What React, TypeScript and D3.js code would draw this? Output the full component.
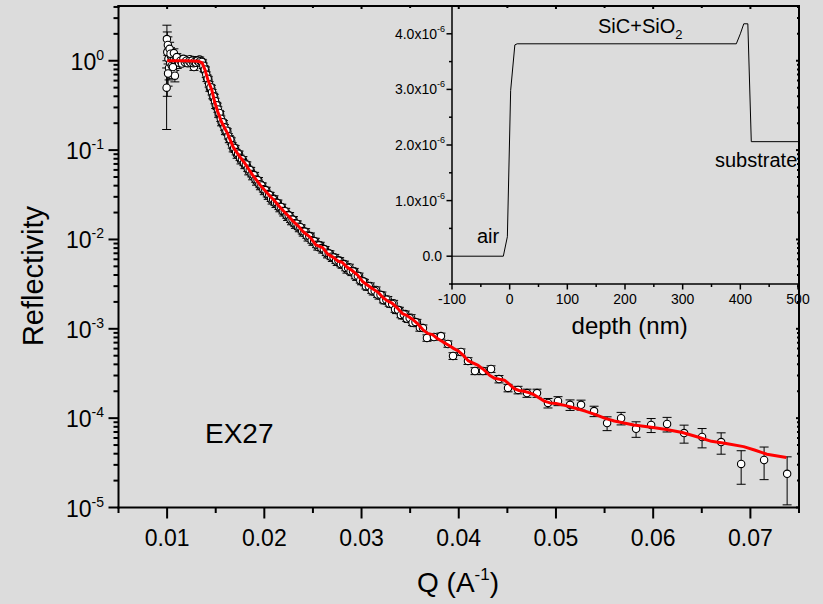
import React from 'react';
import * as d3 from 'd3';

const W = 823;
const H = 604;
const BG = '#dcdcdc';
const FONT = '"Liberation Sans", Arial, sans-serif';

// Measured reflectivity: Q (1/A), R, sigma(R)
const dataQ = [
  0.00995, 0.00998, 0.01002, 0.01008, 0.01014, 0.0102, 0.01026, 0.01032, 0.0104, 0.01048,
  0.01056, 0.01064, 0.01072, 0.0108, 0.01088, 0.01096, 0.01104, 0.01115, 0.0113, 0.01145,
  0.0116, 0.01175, 0.0119, 0.01205, 0.0122, 0.01235, 0.0125, 0.01265, 0.01276, 0.0129,
  0.01305, 0.0132, 0.01335, 0.0135, 0.01365, 0.0138, 0.01395, 0.0141, 0.01425, 0.0144,
  0.01455, 0.0147, 0.01485, 0.015, 0.01515, 0.0153, 0.01545, 0.0156, 0.0158, 0.016,
  0.0162, 0.0164, 0.0166, 0.0168, 0.017, 0.0172, 0.0174, 0.0176, 0.0178, 0.018,
  0.0182, 0.0184, 0.0186, 0.0188, 0.019, 0.0192, 0.0194, 0.0196, 0.0198, 0.02,
  0.0202, 0.0204, 0.0206, 0.0208, 0.021, 0.0212, 0.0214, 0.0216, 0.0218, 0.022,
  0.0222, 0.0224, 0.0226, 0.0228, 0.023, 0.0232, 0.0234, 0.0236, 0.0238, 0.024,
  0.02425, 0.0245, 0.02475, 0.025, 0.02525, 0.0255, 0.02575, 0.026, 0.02625, 0.0265,
  0.02675, 0.027, 0.02725, 0.0275, 0.02775, 0.028, 0.02825, 0.0285, 0.02875, 0.029,
  0.02925, 0.0295, 0.02975, 0.03, 0.0303, 0.0306, 0.0309, 0.0312, 0.0315, 0.0318,
  0.0321, 0.0324, 0.0327, 0.033, 0.0333, 0.0336, 0.0339, 0.0342, 0.0345, 0.0348,
  0.0351, 0.0354, 0.0357, 0.036, 0.03632, 0.03673, 0.03745, 0.03817, 0.03889, 0.03941,
  0.04023, 0.04095, 0.04167, 0.04249, 0.04332, 0.04414, 0.04507, 0.0461, 0.04702, 0.04805,
  0.04918, 0.05021, 0.05145, 0.05258, 0.05392, 0.05526, 0.0567, 0.05824, 0.05979, 0.06143,
  0.06318, 0.06503, 0.06699, 0.06905, 0.07141, 0.07378,
];
const dataR = [
  0.5, 1.75, 1.25, 1.5, 1.05, 0.83, 1.36, 0.95, 1.12, 0.88,
  1.08, 0.76, 1.02, 0.68, 0.97, 1.06, 0.9, 0.97, 1.04, 0.96,
  1.02, 0.99, 1.03, 0.97, 1.01, 1.04, 0.98, 1.02, 0.85, 1.01,
  0.99, 1.02, 1.03, 0.95, 0.95, 0.82, 0.79, 0.64, 0.61, 0.5,
  0.49, 0.41, 0.39, 0.32, 0.31, 0.255, 0.25, 0.205, 0.198, 0.163,
  0.16, 0.133, 0.126, 0.105, 0.103, 0.089, 0.09, 0.077, 0.078, 0.068,
  0.068, 0.058, 0.059, 0.051, 0.052, 0.0445, 0.0455, 0.0395, 0.0395, 0.0348,
  0.0355, 0.0308, 0.031, 0.0273, 0.0285, 0.025, 0.0255, 0.0224, 0.0229, 0.0201,
  0.0206, 0.0179, 0.0185, 0.016, 0.0166, 0.0146, 0.0149, 0.0133, 0.0134, 0.0119,
  0.0122, 0.0105, 0.0109, 0.0094, 0.0095, 0.0083, 0.0086, 0.0077, 0.0077, 0.0068,
  0.0069, 0.0062, 0.0063, 0.0056, 0.0058, 0.0052, 0.0053, 0.0046, 0.0049, 0.0043,
  0.0044, 0.0038, 0.0039, 0.0034, 0.0033, 0.00296, 0.00302, 0.00262, 0.00272, 0.00236,
  0.00238, 0.00208, 0.00213, 0.0019, 0.00193, 0.00162, 0.00161, 0.00141, 0.00146, 0.00129,
  0.00133, 0.00116, 0.00118, 0.00103, 1.02e-3, 7.9e-4, 8.1e-4, 8.3e-4, 6.76e-4, 4.97e-4,
  5.5e-4, 4.37e-4, 3.37e-4, 3.37e-4, 3.55e-4, 2.74e-4, 2.18e-4, 2.07e-4, 1.91e-4, 1.91e-4,
  1.48e-4, 1.56e-4, 1.41e-4, 1.41e-4, 1.2e-4, 8.8e-5, 1.0e-4, 7.6e-5, 8.4e-5, 8.6e-5,
  6.8e-5, 6.15e-5, 5.4e-5, 3.07e-5, 3.4e-5, 2.38e-5,
];
const dataErr = [
  0.33, 0.75, 0.85, 0.35, 0.3, 0.22, 0.25, 0.2, 0.18, 0.16,
  0.15, 0.13, 0.12, 0.1, 0.1, 0.09, 0.08, 0.07, 0.07, 0.07,
  0.07, 0.07, 0.07, 0.07, 0.07, 0.07, 0.07, 0.07, 0.07, 0.07,
  0.07, 0.07, 0.07, 0.07, 0.07, 0.065, 0.06, 0.055, 0.05, 0.045,
  0.04, 0.035, 0.031, 0.028, 0.025, 0.022, 0.02, 0.018, 0.016, 0.014,
  0.013, 0.012, 0.011, 0.0095, 0.009, 0.008, 0.0075, 0.007, 0.0065, 0.006,
  0.0057, 0.0052, 0.005, 0.0045, 0.0043, 0.004, 0.0038, 0.0035, 0.0033, 0.0031,
  0.0029, 0.0027, 0.0026, 0.0024, 0.0023, 0.0022, 0.0021, 0.002, 0.0019, 0.0018,
  0.0017, 0.0016, 0.0015, 0.0014, 0.0014, 0.0013, 0.0012, 0.0011, 0.0011, 0.001,
  0.001, 0.0009, 0.0009, 0.0008, 0.0008, 0.0007, 0.0007, 0.00066, 0.00063, 0.00058,
  0.00056, 0.00053, 0.0005, 0.00048, 0.00046, 0.00044, 0.00042, 0.0004, 0.00038, 0.00036,
  0.00034, 0.00032, 0.0003, 0.00029, 0.00027, 0.00026, 0.00024, 0.00023, 0.00022, 0.00021,
  0.0002, 0.00018, 0.00017, 0.00016, 0.00015, 0.00014, 0.00013, 0.00012, 0.00012, 0.00011,
  0.00011, 0.0001, 9.5e-5, 9.0e-5, 8.5e-5, 6.5e-5, 6.5e-5, 6.5e-5, 5.5e-5, 4.3e-5,
  4.5e-5, 3.8e-5, 3.0e-5, 3.0e-5, 3.0e-5, 2.6e-5, 2.1e-5, 2.0e-5, 2.0e-5, 2.0e-5,
  1.8e-5, 1.8e-5, 1.9e-5, 1.8e-5, 1.6e-5, 1.55e-5, 1.6e-5, 1.5e-5, 1.5e-5, 1.6e-5,
  1.55e-5, 1.5e-5, 1.45e-5, 1.25e-5, 1.35e-5, 1.31e-5,
];

// Additional densely sampled points of the same measurement: [Q, R, sigma]
const densePoints: [number, number, number][] = [
  [0.0101, 0.72, 0.2], [0.01035, 1.2, 0.2], [0.0106, 0.85, 0.15], [0.0107, 1.22, 0.14], [0.011, 1.1, 0.1],
  [0.011225, 0.95, 0.07], [0.011375, 1.0, 0.07], [0.011525, 0.93, 0.07], [0.011675, 1.05, 0.07], [0.011825, 0.96, 0.07],
  [0.011975, 1.0, 0.07], [0.012125, 0.94, 0.07], [0.012275, 0.99, 0.07], [0.012425, 0.95, 0.07], [0.012575, 1.0, 0.07],
  [0.01271, 0.94, 0.07], [0.012825, 0.97, 0.07], [0.012975, 0.95, 0.07], [0.013125, 1.0, 0.07], [0.013275, 0.96, 0.07],
  [0.013425, 0.99, 0.07], [0.013575, 0.97, 0.068], [0.013725, 0.88, 0.062], [0.013875, 0.8, 0.056], [0.014025, 0.7, 0.049],
  [0.014175, 0.63, 0.044], [0.014325, 0.545, 0.038], [0.014475, 0.505, 0.035], [0.014625, 0.445, 0.031], [0.014775, 0.4, 0.028],
  [0.014925, 0.355, 0.025], [0.015075, 0.318, 0.022], [0.015225, 0.285, 0.02], [0.015375, 0.26, 0.018], [0.015525, 0.225, 0.016],
  [0.0157, 0.205, 0.014], [0.0159, 0.18, 0.013], [0.0161, 0.165, 0.012], [0.0163, 0.143, 0.01], [0.0165, 0.131, 0.0092],
  [0.0167, 0.113, 0.0079], [0.0169, 0.106, 0.0074], [0.0171, 0.095, 0.0067], [0.0173, 0.091, 0.0064], [0.0175, 0.082, 0.0057],
  [0.0177, 0.079, 0.0055], [0.0179, 0.072, 0.005], [0.0181, 0.069, 0.0048], [0.0183, 0.062, 0.0043], [0.0185, 0.06, 0.0042],
  [0.0187, 0.054, 0.0038], [0.0189, 0.0525, 0.0037], [0.0191, 0.047, 0.0033], [0.0193, 0.0462, 0.0032], [0.0195, 0.0415, 0.0029],
  [0.0197, 0.0402, 0.0028], [0.0199, 0.0365, 0.0026], [0.0201, 0.0357, 0.0025], [0.0203, 0.0322, 0.0023], [0.0205, 0.0316, 0.0022],
  [0.0207, 0.0286, 0.002], [0.0209, 0.0282, 0.002], [0.0211, 0.0259, 0.0018], [0.0213, 0.0257, 0.0018], [0.0215, 0.0232, 0.0016],
  [0.0217, 0.0231, 0.0016], [0.0219, 0.0208, 0.0015], [0.0221, 0.0207, 0.0014], [0.0223, 0.0186, 0.0013], [0.0225, 0.0186, 0.0013],
  [0.0227, 0.0167, 0.0012], [0.0229, 0.0167, 0.0012], [0.0231, 0.0152, 0.0011], [0.0233, 0.015, 0.0011], [0.0235, 0.0139, 0.001],
  [0.0237, 0.0137, 0.001], [0.0239, 0.0124, 0.0009], [0.02412, 0.0122, 0.0009], [0.02437, 0.0111, 0.0008], [0.02462, 0.0109, 0.0008],
  [0.02487, 0.0098, 0.0007], [0.02512, 0.0096, 0.0007], [0.02537, 0.0087, 0.0006], [0.02562, 0.0086, 0.0006], [0.02587, 0.008, 0.00056],
  [0.02612, 0.0078, 0.00055], [0.02637, 0.0071, 0.0005], [0.02662, 0.007, 0.0005], [0.02687, 0.0064, 0.00045], [0.02712, 0.0063, 0.00044],
  [0.02737, 0.0058, 0.00041], [0.02762, 0.0058, 0.00041], [0.02787, 0.0053, 0.00037], [0.02812, 0.0053, 0.00037], [0.02837, 0.0048, 0.00034],
  [0.02862, 0.0048, 0.00034], [0.02887, 0.0044, 0.00031], [0.02912, 0.0044, 0.00031], [0.02937, 0.0039, 0.00027], [0.02962, 0.0039, 0.00027],
  [0.02987, 0.0035, 0.00025], [0.03015, 0.0034, 0.00024], [0.03045, 0.003, 0.00021], [0.03075, 0.003, 0.00021], [0.03105, 0.00268, 0.00019],
  [0.03135, 0.00266, 0.00019], [0.03165, 0.00242, 0.00017], [0.03195, 0.0024, 0.00017], [0.03225, 0.0021, 0.00015], [0.03255, 0.00212, 0.00015],
  [0.03285, 0.00192, 0.00013], [0.03315, 0.0019, 0.00013], [0.03345, 0.00165, 0.00012], [0.03375, 0.00163, 0.00011], [0.03405, 0.00143, 0.0001],
  [0.03435, 0.00145, 0.0001], [0.03465, 0.0013, 9e-5], [0.03495, 0.00132, 9.2e-5], [0.03525, 0.00117, 8.2e-5], [0.03555, 0.00119, 8.3e-5],
];

// Model fit (red line)
const fitQ = [
  0.01, 0.011, 0.012, 0.0132, 0.0136, 0.0139, 0.0142, 0.0146, 0.0149, 0.0152,
  0.0156, 0.0162, 0.0168, 0.0172, 0.0176, 0.018, 0.0184, 0.0188, 0.0192, 0.0196,
  0.02, 0.0205, 0.021, 0.0215, 0.022, 0.0225, 0.023, 0.0235, 0.024, 0.0247,
  0.0253, 0.026, 0.0265, 0.0271, 0.0276, 0.028, 0.0285, 0.029, 0.0296, 0.0301,
  0.0306, 0.0311, 0.0317, 0.0322, 0.0327, 0.0331, 0.0337, 0.0342, 0.0347, 0.0352,
  0.0357, 0.0363, 0.0368, 0.0373, 0.0378, 0.0384, 0.039, 0.0395, 0.04, 0.0405,
  0.041, 0.0415, 0.042, 0.0426, 0.0432, 0.0437, 0.0442, 0.0447, 0.0452, 0.0457,
  0.0462, 0.0467, 0.0472, 0.0477, 0.0482, 0.0488, 0.0494, 0.05, 0.051, 0.052,
  0.053, 0.054, 0.055, 0.056, 0.058, 0.06, 0.0615, 0.063, 0.0645, 0.066,
  0.0675, 0.0693, 0.0705, 0.0717, 0.0737,
];
const fitR = [
  1.0, 1.0, 1.0, 0.99, 0.945, 0.79, 0.61, 0.47, 0.345, 0.27,
  0.206, 0.155, 0.108, 0.093, 0.081, 0.071, 0.061, 0.0525, 0.0462, 0.0403,
  0.0359, 0.0313, 0.0275, 0.0237, 0.0207, 0.0182, 0.0158, 0.0141, 0.0122, 0.0106,
  0.0087, 0.0081, 0.0069, 0.0063, 0.0057, 0.00556, 0.0049, 0.00452, 0.00398, 0.00339,
  0.00309, 0.00282, 0.00257, 0.00224, 0.00204, 0.00195, 0.0017, 0.00148, 0.0014, 0.00129,
  0.00116, 0.00098, 0.00089, 0.00086, 0.00078, 0.00071, 0.00065, 0.0006, 0.00056, 0.0005,
  0.000437, 0.000412, 0.000389, 0.000347, 0.0003, 0.000279, 0.000272, 0.000266, 0.00024, 0.000214,
  0.000204, 0.0002, 0.000193, 0.000184, 0.00017, 0.000155, 0.000148, 0.000146, 0.000138, 0.000129,
  0.00012, 0.00011, 0.0001, 9.3e-5, 8.4e-5, 7.85e-5, 7.4e-5, 6.9e-5, 6.2e-5, 5.5e-5,
  5.2e-5, 4.8e-5, 4.37e-5, 3.94e-5, 3.63e-5,
];

const xTicks = [0.01, 0.02, 0.03, 0.04, 0.05, 0.06, 0.07];
const xTickLabels = ['0.01', '0.02', '0.03', '0.04', '0.05', '0.06', '0.07'];
const yTickExps = [0, -1, -2, -3, -4, -5];

// Inset: SLD profile
const depth = [-100, -11, -4, 1.7, 9, 13, 393, 400, 406, 413, 419, 500];
const sld = [0, 0, 0.35e-6, 2.98e-6, 3.8e-6, 3.82e-6, 3.82e-6, 4.0e-6, 4.18e-6, 4.18e-6, 2.06e-6, 2.06e-6];
const insetXTicks = [-100, 0, 100, 200, 300, 400, 500];
const insetYTicks = [0, 1e-6, 2e-6, 3e-6, 4e-6];
const insetYLabels = ['0.0', '1.0x10', '2.0x10', '3.0x10', '4.0x10'];

export default function App() {
  const left = 118.5, right = 799, top = 6, bottom = 507.5;
  const x = d3.scaleLinear().domain([0.005, 0.075]).range([left, right]);
  const y = d3.scaleLog().domain([1e-5, 4.1]).range([bottom, top]);

  const allPts: [number, number, number][] = dataQ
    .map((q, i) => [q, dataR[i], dataErr[i]] as [number, number, number])
    .concat(densePoints);

  const fitPts: [number, number][] = fitQ.map((q, i) => [q, fitR[i]]);
  const fitLine = d3.line<[number, number]>().x(d => x(d[0])).y(d => y(d[1]))(fitPts) || '';

  const yMinor: number[] = [];
  for (let e = -5; e <= 0; e++) {
    for (let m = 2; m <= 9; m++) {
      const v = m * Math.pow(10, e);
      if (v <= 4.1) yMinor.push(v);
    }
  }
  const xMinor = d3.range(0.005, 0.0751, 0.01);

  const iL = 452, iR = 798, iT = 6, iB = 284;
  const xi = d3.scaleLinear().domain([-100, 500]).range([iL, iR]);
  const yi = d3.scaleLinear().domain([-0.5e-6, 4.5e-6]).range([iB, iT]);
  const profPts: [number, number][] = depth.map((d, i) => [d, sld[i]]);
  const profLine = d3.line<[number, number]>().x(d => xi(d[0])).y(d => yi(d[1]))(profPts) || '';
  const iXMinor = d3.range(-50, 500, 100);
  const iYMinor = [-0.5e-6, 0.5e-6, 1.5e-6, 2.5e-6, 3.5e-6];

  return (
    <svg width={W} height={H} style={{ position: 'absolute', left: 0, top: 0, background: BG }} fontFamily={FONT}>
      <rect x={0} y={0} width={W} height={H} fill={BG} />
      <defs>
        <clipPath id="plotClip">
          <rect x={left} y={top} width={right - left} height={bottom - top} />
        </clipPath>
      </defs>

      <g clipPath="url(#plotClip)">
        {allPts.map((p, i) => {
          const cx = x(p[0]);
          const r = p[1];
          const e = p[2];
          const lo = Math.max(r - e, 1e-6);
          const yHi = y(r + e);
          const yLo = y(lo);
          return (
            <g key={'e' + i} stroke="#000" strokeWidth={1}>
              <line x1={cx} x2={cx} y1={yHi} y2={yLo} />
              <line x1={cx - 4.5} x2={cx + 4.5} y1={yHi} y2={yHi} />
              <line x1={cx - 4.5} x2={cx + 4.5} y1={yLo} y2={yLo} />
            </g>
          );
        })}
        {allPts.map((p, i) => (
          <circle key={'c' + i} cx={x(p[0])} cy={y(p[1])} r={3.7} fill="#fff" stroke="#000" strokeWidth={1.1} />
        ))}
        <path d={fitLine} fill="none" stroke="#ff0000" strokeWidth={3} strokeLinejoin="round" />
      </g>

      <g stroke="#000" strokeWidth={2} fill="none">
        <line x1={left} x2={left} y1={top - 1} y2={bottom + 1} />
        <line x1={left - 1} x2={right + 1} y1={bottom} y2={bottom} />
        <line x1={left - 1} x2={right + 1} y1={top} y2={top} />
        <line x1={right} x2={right} y1={top - 1} y2={bottom + 1} />
        {yTickExps.map(e => (
          <g key={'yt' + e}>
            <line x1={left - 10} x2={left} y1={y(Math.pow(10, e))} y2={y(Math.pow(10, e))} />
            <line x1={right - 3} x2={right} y1={y(Math.pow(10, e))} y2={y(Math.pow(10, e))} />
          </g>
        ))}
        {yMinor.map((v, i) => (
          <g key={'ym' + i}>
            <line x1={left - 5} x2={left} y1={y(v)} y2={y(v)} />
            <line x1={right - 2} x2={right} y1={y(v)} y2={y(v)} />
          </g>
        ))}
        {xTicks.map(t => (
          <g key={'xt' + t}>
            <line x1={x(t)} x2={x(t)} y1={bottom} y2={bottom + 11} />
            <line x1={x(t)} x2={x(t)} y1={top} y2={top + 3} />
          </g>
        ))}
        {xMinor.map((t, i) => (
          <g key={'xm' + i}>
            <line x1={x(t)} x2={x(t)} y1={bottom} y2={bottom + 5.5} />
            <line x1={x(t)} x2={x(t)} y1={top} y2={top + 2} />
          </g>
        ))}
      </g>

      <g fontSize={23} fill="#000">
        {xTicks.map((t, i) => (
          <text key={'xl' + t} x={x(t)} y={546} textAnchor="middle">{xTickLabels[i]}</text>
        ))}
        {yTickExps.map(e => (
          <text key={'yl' + e} x={104} y={y(Math.pow(10, e)) + 9} textAnchor="end">
            <tspan>10</tspan>
            <tspan dy={-10} fontSize={14}>{String(e)}</tspan>
          </text>
        ))}
      </g>

      <text x={417} y={592} fontSize={28} fill="#000">
        <tspan>Q (A</tspan>
        <tspan dy={-12} fontSize={17}>-1</tspan>
        <tspan dy={12}>)</tspan>
      </text>
      <text transform="translate(43,276) rotate(-90)" textAnchor="middle" fontSize={29} fill="#000">Reflectivity</text>
      <text x={205} y={443} fontSize={28} fill="#000">EX27</text>

      <path d={profLine} fill="none" stroke="#000" strokeWidth={1} />
      <g stroke="#000" strokeWidth={1.5} fill="none">
        <line x1={iL} x2={iL} y1={iT} y2={iB + 0.75} />
        <line x1={iL - 0.75} x2={iR} y1={iB} y2={iB} />
        {insetXTicks.map(t => (
          <line key={'ixt' + t} x1={xi(t)} x2={xi(t)} y1={iB} y2={iB + 5.5} />
        ))}
        {iXMinor.map(t => (
          <line key={'ixm' + t} x1={xi(t)} x2={xi(t)} y1={iB} y2={iB + 3} />
        ))}
        {insetYTicks.map(t => (
          <line key={'iyt' + t} x1={iL - 5.5} x2={iL} y1={yi(t)} y2={yi(t)} />
        ))}
        {iYMinor.map(t => (
          <line key={'iym' + t} x1={iL - 3} x2={iL} y1={yi(t)} y2={yi(t)} />
        ))}
      </g>
      <g fontSize={14} fill="#000">
        {insetXTicks.map(t => (
          <text key={'ixl' + t} x={xi(t)} y={304} textAnchor="middle">{String(t)}</text>
        ))}
        {insetYTicks.map((t, i) => (
          <text key={'iyl' + t} x={i === 0 ? 442 : 445} y={yi(t) + 5} textAnchor="end">
            <tspan>{insetYLabels[i]}</tspan>
            {i > 0 ? <tspan dy={-7} fontSize={9}>-6</tspan> : null}
          </text>
        ))}
      </g>
      <text x={xi(208)} y={334} textAnchor="middle" fontSize={24} fill="#000">depth (nm)</text>
      <text x={598} y={33} fontSize={20} fill="#000">
        <tspan>SiC+SiO</tspan>
        <tspan dy={6} fontSize={13}>2</tspan>
      </text>
      <text x={715} y={167} fontSize={20} fill="#000">substrate</text>
      <text x={477} y={243} fontSize={20} fill="#000">air</text>
    </svg>
  );
}
